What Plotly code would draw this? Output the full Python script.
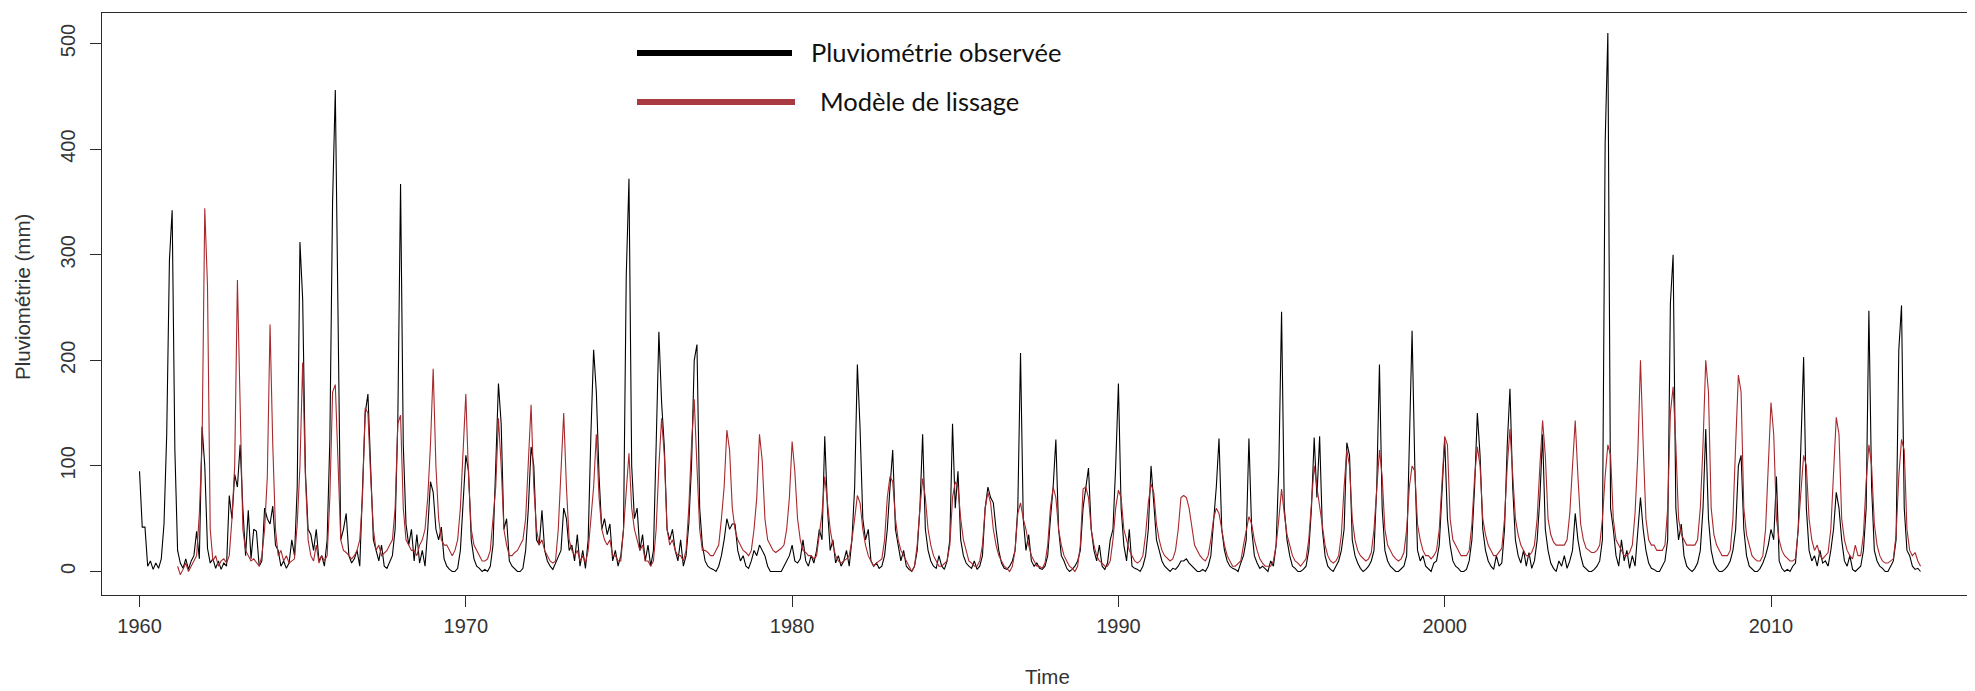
import plotly.graph_objects as go

# ---------------- data (monthly rainfall, mm) ----------------
start_year = 1960
tick_years = [1960, 1970, 1980, 1990, 2000, 2010]
y_ticks = [0, 100, 200, 300, 400, 500]

# observed rainfall, one row per calendar year (Jan..Dec)
obs_1960s = [
    [95, 42, 42, 5, 10, 2, 8, 3, 12, 45, 130, 295],
    [342, 115, 20, 8, 3, 12, 2, 10, 15, 38, 12, 137],
    [100, 22, 8, 12, 3, 10, 2, 8, 5, 72, 50, 92],
    [80, 120, 60, 15, 58, 12, 40, 38, 5, 10, 60, 50],
    [45, 62, 25, 20, 5, 10, 3, 8, 30, 15, 80, 312],
    [258, 95, 40, 35, 20, 40, 10, 15, 5, 30, 125, 350],
    [456, 240, 30, 40, 55, 15, 8, 12, 20, 5, 70, 150],
    [168, 90, 30, 20, 10, 25, 5, 3, 10, 15, 40, 145],
    [367, 120, 45, 25, 40, 10, 35, 8, 20, 5, 40, 85],
    [75, 40, 30, 42, 12, 5, 2, 0, 0, 3, 20, 60],
]
obs_1970s = [
    [110, 95, 30, 12, 5, 3, 0, 2, 0, 5, 25, 100],
    [178, 140, 40, 50, 10, 5, 2, 0, 0, 3, 20, 60],
    [118, 100, 30, 25, 58, 20, 10, 5, 2, 8, 15, 20],
    [60, 50, 20, 25, 10, 35, 5, 20, 3, 30, 130, 210],
    [170, 90, 40, 50, 35, 45, 10, 20, 5, 15, 40, 280],
    [372, 100, 50, 60, 20, 35, 10, 25, 5, 20, 120, 227],
    [160, 118, 40, 30, 40, 20, 10, 30, 5, 15, 45, 100],
    [200, 215, 60, 25, 10, 5, 3, 2, 0, 5, 15, 30],
    [50, 40, 45, 45, 20, 10, 15, 5, 3, 10, 20, 15],
    [25, 20, 15, 5, 0, 0, 0, 0, 0, 5, 10, 15],
]
obs_1980s = [
    [25, 10, 8, 12, 30, 10, 5, 15, 8, 20, 40, 30],
    [128, 60, 20, 30, 8, 15, 5, 10, 20, 5, 30, 80],
    [196, 135, 50, 30, 40, 10, 5, 8, 3, 5, 15, 40],
    [80, 115, 40, 25, 10, 20, 5, 2, 0, 5, 20, 60],
    [130, 40, 20, 10, 5, 3, 15, 5, 2, 10, 30, 140],
    [60, 95, 30, 15, 8, 5, 3, 10, 2, 5, 15, 60],
    [80, 70, 65, 40, 20, 8, 3, 2, 5, 10, 20, 60],
    [207, 50, 20, 35, 10, 5, 8, 3, 2, 5, 15, 50],
    [80, 125, 40, 15, 10, 3, 0, 2, 5, 10, 20, 60],
    [78, 98, 40, 20, 10, 25, 5, 2, 8, 30, 40, 100],
]
obs_1990s = [
    [178, 60, 25, 10, 40, 5, 3, 2, 0, 5, 15, 40],
    [100, 60, 30, 20, 10, 5, 2, 0, 3, 2, 5, 10],
    [10, 12, 8, 5, 3, 0, 0, 2, 0, 5, 15, 50],
    [80, 126, 40, 20, 10, 5, 3, 2, 0, 8, 15, 30],
    [126, 40, 15, 8, 3, 5, 2, 0, 10, 5, 25, 100],
    [246, 60, 30, 15, 5, 3, 0, 0, 2, 5, 20, 60],
    [127, 70, 128, 40, 15, 5, 2, 0, 5, 10, 20, 40],
    [122, 110, 30, 15, 8, 3, 0, 2, 5, 10, 20, 80],
    [196, 60, 20, 10, 5, 2, 0, 0, 3, 5, 15, 120],
    [228, 100, 20, 10, 15, 5, 2, 0, 8, 10, 25, 80],
]
obs_2000s = [
    [125, 50, 25, 10, 5, 3, 0, 0, 2, 10, 30, 80],
    [150, 110, 40, 20, 10, 5, 2, 15, 5, 8, 40, 120],
    [173, 80, 30, 15, 8, 20, 5, 18, 3, 10, 30, 70],
    [130, 40, 20, 8, 3, 0, 10, 5, 15, 3, 10, 20],
    [55, 30, 15, 5, 2, 0, 0, 2, 5, 10, 30, 405],
    [510, 60, 40, 15, 5, 30, 10, 20, 3, 15, 5, 40],
    [70, 40, 20, 8, 3, 2, 0, 0, 5, 10, 30, 254],
    [300, 60, 30, 45, 15, 5, 2, 0, 3, 8, 20, 60],
    [135, 50, 20, 8, 3, 0, 0, 2, 5, 10, 20, 40],
    [100, 110, 40, 15, 5, 2, 0, 0, 3, 8, 15, 25],
]
obs_2010s = [
    [40, 30, 90, 10, 3, 0, 2, 0, 5, 8, 40, 120],
    [203, 60, 20, 10, 15, 5, 20, 8, 10, 5, 20, 40],
    [75, 60, 30, 10, 5, 15, 2, 0, 3, 5, 20, 60],
    [247, 80, 20, 10, 5, 3, 0, 0, 5, 10, 30, 210],
    [252, 60, 20, 15, 5, 2, 3, 0],
]

# smoothing model (fitted values), starting March 1961
fit_start_index = 14
fit_1960s = [
    [5, -3, 2, 8, 0, 5, 10, 15, 55, 120],
    [344, 270, 40, 10, 15, 5, 10, 12, 8, 15, 50, 100],
    [276, 150, 40, 20, 15, 10, 12, 8, 5, 15, 40, 90],
    [234, 120, 40, 15, 20, 10, 15, 8, 10, 12, 45, 100],
    [198, 90, 30, 15, 10, 25, 8, 15, 10, 15, 70, 170],
    [177, 100, 30, 20, 18, 15, 12, 15, 20, 30, 70, 155],
    [150, 90, 40, 20, 25, 15, 18, 20, 25, 30, 60, 140],
    [148, 60, 30, 25, 20, 20, 15, 25, 30, 40, 70, 120],
    [192, 100, 50, 30, 25, 25, 20, 15, 20, 30, 60, 110],
]
fit_1970s = [
    [168, 90, 40, 25, 20, 15, 10, 10, 12, 20, 50, 80],
    [145, 100, 40, 25, 15, 15, 18, 20, 25, 30, 50, 100],
    [158, 80, 40, 25, 30, 20, 15, 10, 8, 10, 40, 90],
    [150, 80, 30, 20, 15, 20, 10, 15, 8, 20, 50, 80],
    [130, 70, 40, 30, 25, 30, 15, 15, 10, 10, 40, 80],
    [112, 60, 40, 30, 20, 25, 10, 10, 5, 10, 40, 100],
    [145, 110, 40, 25, 30, 20, 15, 15, 10, 20, 60, 120],
    [163, 100, 40, 20, 20, 18, 15, 15, 20, 25, 50, 80],
    [134, 115, 60, 40, 30, 25, 20, 18, 15, 20, 40, 70],
    [130, 105, 50, 30, 25, 20, 18, 20, 22, 25, 40, 70],
]
fit_1980s = [
    [123, 95, 50, 30, 20, 18, 15, 15, 12, 15, 35, 55],
    [90, 65, 40, 25, 15, 10, 8, 10, 12, 15, 30, 50],
    [72, 65, 40, 25, 15, 10, 5, 8, 10, 12, 30, 70],
    [90, 85, 50, 30, 20, 15, 10, 5, 0, 5, 25, 60],
    [88, 70, 40, 25, 15, 10, 5, 5, 8, 10, 25, 70],
    [85, 80, 50, 30, 20, 10, 8, 5, 5, 10, 25, 60],
    [75, 65, 40, 25, 15, 10, 5, 3, 0, 5, 20, 55],
    [65, 50, 40, 25, 15, 10, 5, 5, 3, 8, 25, 60],
    [80, 70, 40, 25, 15, 10, 5, 3, 0, 5, 25, 78],
    [80, 70, 40, 25, 15, 10, 8, 5, 5, 10, 30, 60],
]
fit_1990s = [
    [77, 70, 40, 30, 20, 15, 10, 8, 10, 15, 35, 65],
    [83, 75, 45, 30, 20, 15, 12, 10, 12, 20, 40, 70],
    [72, 70, 60, 40, 25, 20, 15, 12, 10, 15, 30, 50],
    [60, 55, 40, 25, 15, 10, 5, 5, 8, 10, 25, 40],
    [52, 45, 30, 20, 12, 8, 5, 5, 5, 10, 25, 50],
    [78, 55, 35, 25, 15, 10, 8, 5, 8, 12, 30, 70],
    [100, 80, 60, 40, 25, 15, 10, 8, 10, 15, 35, 80],
    [115, 100, 50, 30, 20, 15, 12, 10, 12, 18, 40, 80],
    [115, 90, 40, 25, 20, 15, 12, 10, 12, 18, 40, 80],
    [100, 95, 45, 30, 20, 15, 15, 12, 15, 20, 40, 90],
]
fit_2000s = [
    [128, 120, 50, 30, 25, 20, 15, 15, 15, 20, 45, 90],
    [118, 100, 50, 35, 25, 20, 15, 15, 18, 22, 50, 100],
    [135, 90, 50, 35, 25, 20, 15, 15, 18, 25, 50, 100],
    [143, 110, 50, 35, 28, 25, 25, 25, 25, 30, 55, 100],
    [143, 90, 45, 30, 22, 20, 18, 18, 20, 25, 50, 90],
    [120, 110, 50, 30, 25, 20, 15, 15, 18, 25, 55, 110],
    [200, 120, 50, 30, 25, 25, 20, 20, 20, 25, 60, 150],
    [175, 120, 50, 35, 30, 25, 25, 25, 25, 30, 60, 120],
    [200, 170, 60, 35, 25, 20, 15, 15, 15, 20, 50, 120],
    [186, 170, 60, 35, 25, 15, 12, 10, 10, 15, 40, 100],
]
fit_2010s = [
    [160, 130, 50, 30, 20, 15, 12, 10, 10, 12, 40, 75],
    [110, 100, 50, 30, 20, 25, 15, 12, 15, 18, 40, 90],
    [146, 130, 50, 30, 20, 15, 12, 25, 15, 15, 35, 85],
    [120, 100, 45, 25, 15, 10, 8, 8, 10, 12, 35, 90],
    [125, 115, 40, 20, 15, 18, 10, 5],
]

legend_labels = ["Pluviométrie observée", "Modèle de lissage"]
axis_x_title = "Time"
axis_y_title = "Pluviométrie (mm)"


def flatten(rows):
    return [v for row in rows for v in row]


obs = flatten(obs_1960s + obs_1970s + obs_1980s + obs_1990s + obs_2000s + obs_2010s)
fit = flatten(fit_1960s + fit_1970s + fit_1980s + fit_1990s + fit_2000s + fit_2010s)
t_obs = [start_year + i / 12 for i in range(len(obs))]
t_fit = [start_year + (fit_start_index + i) / 12 for i in range(len(fit))]
assert len(fit) + fit_start_index == len(obs)

# ---------------- layout geometry ----------------
# the page body has an 8px default margin; figure is shifted accordingly
OFF = 8
W, H = 1975 - OFF, 691 - OFF
L, R, T, B = 102 - OFF, 0, 13 - OFF, H - (595 - OFF)
PW, PH = W - L - R, H - T - B


def px(x_page):
    return (x_page - OFF - L) / PW


def py(y_page):
    return (H - B - (y_page - OFF)) / PH


AX_COL = "#2b2b2b"
TICK_FONT = dict(family="Liberation Sans, Arial, sans-serif", size=20, color="#333333")
TITLE_FONT = dict(family="Liberation Sans, Arial, sans-serif", size=20.5, color="#333333")
LEG_FONT = dict(family="Lato, Open Sans, sans-serif", size=25.5, color="#111111")

fig = go.Figure()
fig.add_trace(go.Scatter(x=t_obs, y=obs, mode="lines",
                         line=dict(color="#000000", width=1.1),
                         name=legend_labels[0], hoverinfo="skip"))
fig.add_trace(go.Scatter(x=t_fit, y=fit, mode="lines",
                         line=dict(color="#a8282c", width=1.1),
                         name=legend_labels[1], hoverinfo="skip"))

x_right = 1960 + (1975 - 139.5) / 32.63

fig.update_layout(
    width=W, height=H,
    margin=dict(l=L, r=R, t=T, b=B, pad=0),
    paper_bgcolor="white", plot_bgcolor="white",
    showlegend=False,
    xaxis=dict(range=[1958.85, x_right], tickmode="array", tickvals=tick_years,
               ticktext=[str(v) for v in tick_years],
               ticks="outside", ticklen=11, tickwidth=1, tickcolor=AX_COL,
               showline=True, linecolor=AX_COL, linewidth=1, mirror=True,
               showgrid=False, zeroline=False, tickfont=TICK_FONT,
               ticklabelstandoff=2),
    yaxis=dict(range=[-22.25, 528.9], tickmode="array", tickvals=y_ticks,
               ticktext=[str(v) for v in y_ticks], tickangle=-90,
               ticks="outside", ticklen=11, tickwidth=1, tickcolor=AX_COL,
               showline=True, linecolor=AX_COL, linewidth=1, mirror=False,
               showgrid=False, zeroline=False, tickfont=TICK_FONT,
               ticklabelstandoff=7),
)

annotations = [
    dict(text=axis_x_title, xref="paper", yref="paper", x=px(1047), y=py(676),
         xanchor="center", yanchor="middle", showarrow=False, font=TITLE_FONT),
    dict(text=axis_y_title, xref="paper", yref="paper", x=px(22), y=py(297),
         xanchor="center", yanchor="middle", showarrow=False, textangle=-90,
         font=TITLE_FONT),
    dict(text=legend_labels[0], xref="paper", yref="paper", x=px(809), y=py(52),
         xanchor="left", yanchor="middle", showarrow=False, font=LEG_FONT),
    dict(text=legend_labels[1], xref="paper", yref="paper", x=px(818), y=py(101),
         xanchor="left", yanchor="middle", showarrow=False, font=LEG_FONT),
]
shapes = [
    dict(type="line", xref="paper", yref="paper", x0=px(637), x1=px(792),
         y0=py(53), y1=py(53), line=dict(color="#000000", width=6)),
    dict(type="line", xref="paper", yref="paper", x0=px(637), x1=px(795),
         y0=py(102), y1=py(102), line=dict(color="#a93a42", width=6)),
]
fig.update_layout(annotations=annotations, shapes=shapes)

fig.write_html("out.html")
